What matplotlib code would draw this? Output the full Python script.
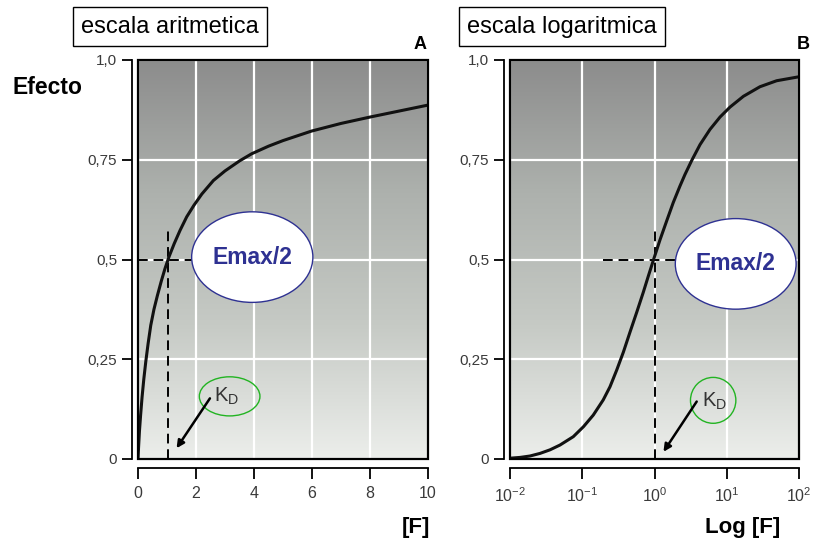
import matplotlib
matplotlib.use("Agg")
import matplotlib.pyplot as plt
import numpy as np
from matplotlib.patches import Ellipse, Rectangle
from matplotlib.colors import LinearSegmentedColormap
from matplotlib.ticker import NullLocator

plt.rcParams['font.family'] = ['Liberation Sans', 'DejaVu Sans']
plt.rcParams['mathtext.fontset'] = 'custom'
plt.rcParams['mathtext.rm'] = 'Liberation Sans'
plt.rcParams['mathtext.it'] = 'Liberation Sans'
plt.rcParams['mathtext.default'] = 'regular'

# Panel A: escala aritmetica
conc_lin = [0, 0.02, 0.05, 0.09, 0.14, 0.2, 0.27, 0.35, 0.44, 0.55, 0.67, 0.8, 0.93,
            1.07, 1.25, 1.45, 1.68, 1.93, 2.2, 2.6, 3.0, 3.5, 3.92, 4.5, 5.0, 5.99,
            7.0, 8.0, 9.0, 10.0]
efecto_lin = [0, 0.03, 0.07, 0.11, 0.155, 0.2, 0.245, 0.29, 0.335, 0.375, 0.41, 0.445, 0.477,
              0.507, 0.54, 0.573, 0.607, 0.636, 0.664, 0.698, 0.722, 0.747, 0.765, 0.784, 0.798,
              0.822, 0.841, 0.857, 0.872, 0.887]

# Panel B: escala logaritmica
conc_log = [0.01, 0.0138, 0.0189, 0.026, 0.0358, 0.0492, 0.0752, 0.104, 0.142, 0.195,
            0.242, 0.30, 0.371, 0.458, 0.568, 0.70, 0.82, 0.984, 1.19, 1.476, 1.82,
            2.25, 2.64, 3.27, 4.27, 5.86, 8.07, 11.1, 17.0, 28.8, 49.0, 100]
efecto_log = [0.002, 0.004, 0.0075, 0.014, 0.023, 0.035, 0.056, 0.081, 0.110, 0.148,
              0.181, 0.223, 0.268, 0.318, 0.368, 0.418, 0.458, 0.503, 0.549, 0.597, 0.643,
              0.684, 0.713, 0.748, 0.788, 0.826, 0.857, 0.882, 0.909, 0.933, 0.948, 0.958]

kd_lin = 1.05
kd_log = 1.0
emax_mitad = 0.5

yticks = [0, 0.25, 0.5, 0.75, 1.0]
ytick_labels = ['0', '0,25', '0,5', '0,75', '1,0']
xticks_lin = [0, 2, 4, 6, 8, 10]
xticks_log = [0.01, 0.1, 1, 10, 100]
xtick_labels_log = ['$10^{-2}$', '$10^{-1}$', '$10^{0}$', '$10^{1}$', '$10^{2}$']

fondo = LinearSegmentedColormap.from_list('fondo', ['#eceeeb', '#c6cac5', '#adb1ad', '#8c8c8c'])
azul = '#2e3192'

fig = plt.figure(figsize=(8.13, 5.42), dpi=100)
axA = fig.add_axes([138/813, 83/542, 290/813, 399/542])
axB = fig.add_axes([510/813, 83/542, 289/813, 399/542])


def preparar(ax):
    grad = np.linspace(0, 1, 256).reshape(-1, 1)
    ax.imshow(grad, cmap=fondo, origin='lower', extent=[0, 1, 0, 1],
              transform=ax.transAxes, aspect='auto', zorder=0)
    ax.set_axisbelow(True)
    ax.grid(True, color='white', lw=1.6)
    ax.set_ylim(0, 1)
    ax.set_yticks(yticks)
    ax.set_yticklabels(ytick_labels)
    ax.spines['top'].set_visible(False)
    ax.spines['right'].set_visible(False)
    ax.spines['left'].set_position(('outward', 4))
    ax.spines['bottom'].set_position(('outward', 6.5))
    for s in ['left', 'bottom']:
        ax.spines[s].set_linewidth(1.3)
    ax.add_patch(Rectangle((0, 0), 1, 1, transform=ax.transAxes, fill=False,
                           edgecolor='black', lw=1.6, zorder=5, clip_on=False))
    ax.tick_params(axis='x', direction='out', length=8, width=1.3, pad=5,
                   labelsize=11.5, labelcolor='#3a3a3a')
    ax.tick_params(axis='y', direction='out', length=7, width=1.3, pad=4,
                   labelsize=11, labelcolor='#3a3a3a')


def notas(ax, emax_xy, kd_xy, kd_wh, kd_texto_xy, flecha_ini, flecha_fin):
    ax.add_patch(Ellipse(emax_xy, 0.418, 0.227, transform=ax.transAxes,
                         facecolor='white', edgecolor=azul, lw=1.0, zorder=6))
    ax.text(emax_xy[0], emax_xy[1], 'Emax/2', transform=ax.transAxes, ha='center',
            va='center', color=azul, fontsize=16.5, fontweight='bold', zorder=7)
    ax.add_patch(Ellipse(kd_xy, kd_wh[0], kd_wh[1], transform=ax.transAxes,
                         facecolor='none', edgecolor='#22b422', lw=1.0, zorder=6))
    ax.text(kd_texto_xy[0], kd_texto_xy[1], 'K$_{D}$', transform=ax.transAxes,
            ha='center', va='center', color='#333333', fontsize=14.5, zorder=7)
    ax.annotate('', xy=flecha_fin, xytext=flecha_ini, xycoords='axes fraction',
                arrowprops=dict(arrowstyle='-|>', color='black', lw=1.8,
                                mutation_scale=11, shrinkA=0, shrinkB=0), zorder=7)


# Panel A
preparar(axA)
axA.set_xlim(0, 10)
axA.set_xticks(xticks_lin)
axA.plot(conc_lin, efecto_lin, color='#111111', lw=2.2, solid_joinstyle='round',
         solid_capstyle='round', zorder=4)
axA.plot([kd_lin, kd_lin], [0, 0.58], color='black', lw=1.4, dashes=(5, 3), zorder=3)
axA.plot([0, 1.85], [emax_mitad, emax_mitad], color='black', lw=1.4, dashes=(5, 3), zorder=3)
notas(axA, (0.394, 0.506), (0.316, 0.157), (0.209, 0.098), (0.307, 0.156),
      (0.248, 0.152), (0.133, 0.027))
axA.text(0.996, 1.018, 'A', transform=axA.transAxes, ha='right', va='bottom',
         fontsize=13, fontweight='bold')

# Panel B
preparar(axB)
axB.set_xscale('log')
axB.set_xlim(0.01, 100)
axB.set_xticks(xticks_log)
axB.set_xticklabels(xtick_labels_log)
axB.xaxis.set_minor_locator(NullLocator())
axB.plot(conc_log, efecto_log, color='#111111', lw=2.2, solid_joinstyle='round',
         solid_capstyle='round', zorder=4)
axB.plot([kd_log, kd_log], [0, 0.578], color='black', lw=1.4, dashes=(5, 3), zorder=3)
axB.plot([0.195, 1.92], [emax_mitad, emax_mitad], color='black', lw=1.4, dashes=(5, 3), zorder=3)
notas(axB, (0.781, 0.489), (0.703, 0.147), (0.157, 0.115), (0.709, 0.144),
      (0.646, 0.144), (0.531, 0.018))
axB.text(1.038, 1.018, 'B', transform=axB.transAxes, ha='right', va='bottom',
         fontsize=13, fontweight='bold')

# textos de la figura
caja = dict(boxstyle='square,pad=0.35', facecolor='white', edgecolor='black', lw=1.0)
fig.text(170.3/813, 1 - 26.7/542, 'escala aritmetica', ha='center', va='center',
         fontsize=17, bbox=caja)
fig.text(561.7/813, 1 - 26.7/542, 'escala logaritmica', ha='center', va='center',
         fontsize=17, bbox=caja)
fig.text(13/813, 1 - 88/542, 'Efecto', ha='left', va='center', fontsize=16.5,
         fontweight='bold')
fig.text(430/813, 1 - 528/542, '[F]', ha='right', va='center', fontsize=16,
         fontweight='bold')
fig.text(743/813, 1 - 528/542, 'Log [F]', ha='center', va='center', fontsize=16,
         fontweight='bold')

fig.savefig('out.png', dpi=100)
